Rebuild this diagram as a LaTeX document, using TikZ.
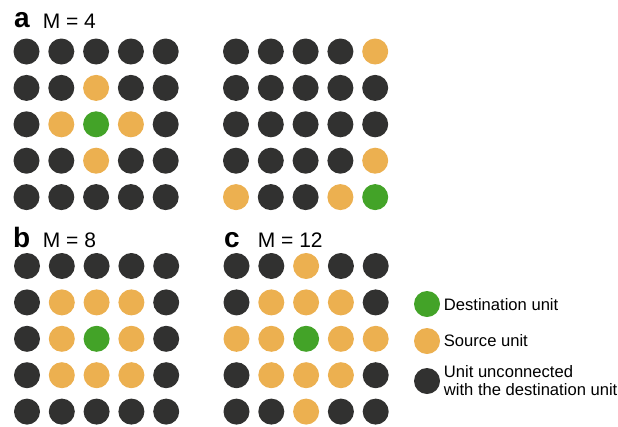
\documentclass[tikz,border=0pt]{standalone}
\usepackage{fontspec}
\setmainfont{Liberation Sans}
\definecolor{dk}{HTML}{313130}
\definecolor{orng}{HTML}{ECB050}
\definecolor{grn}{HTML}{43A328}
\tikzset{
  unit/.style={circle,minimum size=26pt,inner sep=0pt,draw=none},
  dot0/.style={unit,fill=dk},
  dot1/.style={unit,fill=orng},
  dot2/.style={unit,fill=grn},
  panel/.style={anchor=base west,inner sep=0pt,font=\bfseries\fontsize{28}{30}\selectfont},
  mlabel/.style={anchor=base west,inner sep=0pt,font=\fontsize{21}{24}\selectfont},
  legtext/.style={anchor=base west,inner sep=0pt,font=\fontsize{16.6}{18}\selectfont}
}
\newcommand\unitgrid[4]{%
  \foreach \r in {0,...,4}{%
    \foreach \c in {0,...,4}{%
      \pgfmathtruncatemacro\kk{#4[5*\r+\c]}%
      \node[dot\kk] (#1-\r-\c) at ({#2+34.8*\c},{#3+36.4*\r}) {};
    }%
  }%
}
\def\gridA{{0,0,0,0,0, 0,0,1,0,0, 0,1,2,1,0, 0,0,1,0,0, 0,0,0,0,0}}
\def\gridB{{0,0,0,0,1, 0,0,0,0,0, 0,0,0,0,0, 0,0,0,0,1, 1,0,0,1,2}}
\def\gridC{{0,0,0,0,0, 0,1,1,1,0, 0,1,2,1,0, 0,1,1,1,0, 0,0,0,0,0}}
\def\gridD{{0,0,1,0,0, 0,1,1,1,0, 1,1,2,1,1, 0,1,1,1,0, 0,0,1,0,0}}
\begin{document}
\begin{tikzpicture}[x=1pt,y=-1pt]
\useasboundingbox (0,0) rectangle (618,426);
\node[panel] (pa) at (14,27.5) {a};
\node[mlabel] (ma) at (42.6,28) {M = 4};
\unitgrid{ga}{26.5}{51.5}{\gridA}
\unitgrid{gr}{236}{51.5}{\gridB}
\node[panel] (pb) at (13,247) {b};
\node[mlabel] (mb) at (42.7,247) {M = 8};
\unitgrid{gb}{27}{266}{\gridC}
\node[panel] (pc) at (224,247.3) {c};
\node[mlabel] (mc) at (257.7,247.3) {M = 12};
\unitgrid{gc}{236.5}{266}{\gridD}
\node[dot2] (l1) at (427,304) {};
\node[dot1] (l2) at (427,341) {};
\node[dot0] (l3) at (427,381) {};
\node[legtext] (t1) at (443.7,310.7) {Destination unit};
\node[legtext] (t2) at (443.7,346.7) {Source unit};
\node[legtext] (t3) at (443.7,377.7) {Unit unconnected};
\node[legtext] (t3b) at (443.7,395) {with the destination unit};
\end{tikzpicture}
\end{document}
